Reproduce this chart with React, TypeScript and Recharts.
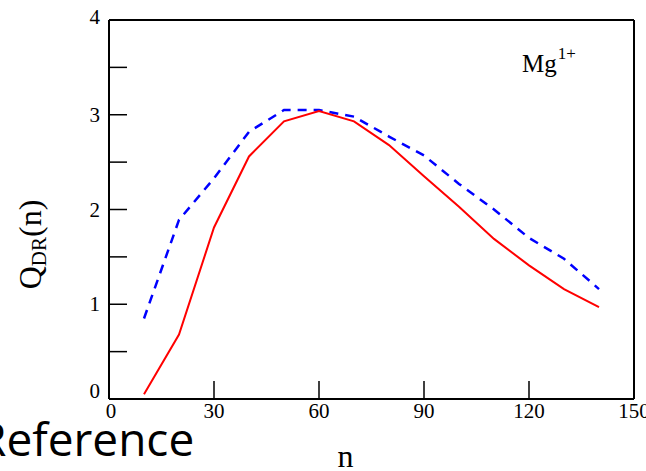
import React from "react";
import { LineChart, Line, XAxis, YAxis, Customized } from "recharts";

// Q_DR(n) for Mg1+ : solid red vs dashed blue curve
const nValues = [10, 20, 30, 40, 50, 60, 70, 80, 90, 100, 110, 120, 130, 140];
const redValues = [0.05, 0.68, 1.81, 2.56, 2.93, 3.04, 2.93, 2.68, 2.35, 2.03, 1.69, 1.41, 1.16, 0.97];
const blueValues = [0.85, 1.89, 2.33, 2.82, 3.05, 3.05, 2.98, 2.77, 2.57, 2.27, 2.0, 1.7, 1.48, 1.16];
const xTicks = [0, 30, 60, 90, 120, 150];
const yTicks = [0, 0.5, 1, 1.5, 2, 2.5, 3, 3.5, 4];

const data = nValues.map((n, i) => ({ n, red: redValues[i], blue: blueValues[i] }));

const SERIF = '"Liberation Serif", "Times New Roman", serif';
const TICK_LEN = 18;
const TICK_W = 1.5;

function BottomTick({ x, y, payload }: any) {
  // first label sits a bit right of the corner
  const dx = payload.value === 0 ? 2 : 0;
  return (
    <g>
      <line x1={x} y1={y} x2={x} y2={y - TICK_LEN} stroke="#000" strokeWidth={TICK_W} />
      <text x={x + dx} y={y + 19} textAnchor="middle" fontFamily={SERIF} fontSize={21} fill="#000">
        {payload.value}
      </text>
    </g>
  );
}

function TopTick({ x, y }: any) {
  return <line x1={x} y1={y} x2={x} y2={y + TICK_LEN} stroke="#000" strokeWidth={TICK_W} />;
}

function LeftTick({ x, y, payload }: any) {
  const v = payload.value;
  // end labels are nudged up, inside the frame height
  const dy = v === 0 ? -1 : v === 4 ? 4 : 7;
  return (
    <g>
      <line x1={x} y1={y} x2={x + TICK_LEN} y2={y} stroke="#000" strokeWidth={TICK_W} />
      {Number.isInteger(v) && (
        <text x={x - 9} y={y + dy} textAnchor="end" fontFamily={SERIF} fontSize={21} fill="#000">
          {v}
        </text>
      )}
    </g>
  );
}

function RightTick({ x, y }: any) {
  return <line x1={x} y1={y} x2={x - TICK_LEN} y2={y} stroke="#000" strokeWidth={TICK_W} />;
}

function YLabel({ viewBox }: any) {
  const cx = viewBox.x + 41;
  const cy = viewBox.y + viewBox.height / 2 + 35;
  return (
    <text x={cx} y={cy} transform={`rotate(-90, ${cx}, ${cy})`} textAnchor="middle"
      fontFamily={SERIF} fontSize={32} fill="#000">
      Q<tspan fontSize={21} dy={5}>DR</tspan><tspan dy={-5}>(n)</tspan>
    </text>
  );
}

function XLabel({ viewBox }: any) {
  return (
    <text x={viewBox.x + viewBox.width / 2 - 26} y={viewBox.y + 68} textAnchor="middle"
      fontFamily={SERIF} fontSize={32} fill="#000">
      n
    </text>
  );
}

function Overlay() {
  return (
    <g>
      <text x={522} y={72} fontFamily={SERIF} fontSize={25} fill="#000">
        Mg<tspan fontSize={17} dy={-13} dx={1}>1+</tspan>
      </text>
      <text x={-22} y={456} fontFamily='"Open Sans", sans-serif' fontSize={46} fill="#000">
        Reference
      </text>
    </g>
  );
}

export default function App() {
  return (
    <div style={{ position: "absolute", left: 0, top: 0, background: "#fff" }}>
      <LineChart width={646} height={471} data={data} margin={{ top: 0, right: 0, bottom: 0, left: 0 }}>
        <XAxis dataKey="n" type="number" domain={[0, 150]} ticks={xTicks} height={72}
          tickSize={0} tickMargin={0} tick={BottomTick} axisLine={{ stroke: "#000", strokeWidth: 2 }}
          label={XLabel} interval={0} />
        <XAxis xAxisId="top" orientation="top" type="number" domain={[0, 150]} ticks={xTicks} height={20}
          tickSize={0} tickMargin={0} tick={TopTick} axisLine={{ stroke: "#000", strokeWidth: 2 }} interval={0} />
        <YAxis type="number" domain={[0, 4]} ticks={yTicks} width={109} tickSize={0} tickMargin={0}
          tick={LeftTick} axisLine={{ stroke: "#000", strokeWidth: 2 }} label={YLabel} interval={0} />
        <YAxis yAxisId="right" orientation="right" type="number" domain={[0, 4]} ticks={yTicks} width={12}
          tickSize={0} tickMargin={0} tick={RightTick} axisLine={{ stroke: "#000", strokeWidth: 2 }} interval={0} />
        <Line dataKey="blue" type="linear" stroke="#0000ff" strokeWidth={2.5} strokeDasharray="9 7"
          dot={false} isAnimationActive={false} />
        <Line dataKey="red" type="linear" stroke="#ff0000" strokeWidth={2} dot={false} isAnimationActive={false} />
        <Customized component={Overlay} />
      </LineChart>
    </div>
  );
}
